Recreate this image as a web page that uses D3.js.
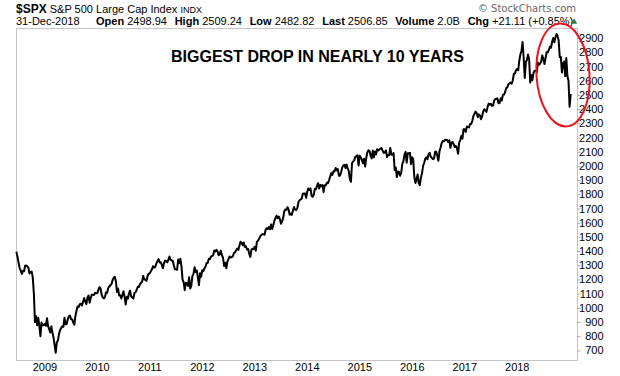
<!DOCTYPE html>
<html>
<head>
<meta charset="utf-8">
<script src="https://cdn.jsdelivr.net/npm/d3@7"></script>
<style>
  body { margin: 0; background: #fff; }
  text { font-family: Arial, "Liberation Sans", sans-serif; }
</style>
</head>
<body>
<div id="chart"></div>
<script>
const width = 620;
const height = 376;

// weekly-ish closes, 4 per month
const spx2008 = [1395, 1360, 1318, 1278, 1262, 1239, 1261, 1257, 1296, 1298, 1292, 1283,
  1242, 1252, 1255, 1213, 1100, 899, 941, 877, 930, 873, 800, 896, 876, 879, 887, 873];
const spx2009 = [927, 870, 850, 826, 869, 827, 789, 735, 683, 757, 769, 816,
  843, 857, 870, 866, 929, 883, 887, 919, 940, 946, 921, 918,
  897, 880, 941, 979, 1010, 1005, 1026, 1029, 1016, 1042, 1068, 1044,
  1025, 1071, 1087, 1036, 1069, 1093, 1091, 1091, 1106, 1102, 1102, 1126];
const spx2010 = [1145, 1137, 1092, 1074, 1066, 1075, 1109, 1105, 1139, 1150, 1159, 1167,
  1194, 1212, 1218, 1187, 1111, 1136, 1087, 1089, 1065, 1092, 1117, 1076,
  1023, 1078, 1065, 1102, 1121, 1079, 1072, 1065, 1104, 1110, 1125, 1148,
  1146, 1165, 1176, 1183, 1225, 1199, 1199, 1190, 1224, 1240, 1243, 1257];
const spx2011 = [1271, 1293, 1283, 1286, 1311, 1329, 1343, 1320, 1321, 1304, 1279, 1313,
  1332, 1328, 1320, 1337, 1361, 1340, 1333, 1331, 1300, 1271, 1271, 1268,
  1340, 1316, 1345, 1292, 1199, 1179, 1124, 1177, 1174, 1154, 1216, 1136,
  1155, 1224, 1239, 1285, 1253, 1263, 1216, 1159, 1244, 1219, 1265, 1258];
const spx2012 = [1278, 1289, 1315, 1316, 1345, 1343, 1361, 1366, 1370, 1404, 1397, 1408,
  1398, 1370, 1379, 1403, 1369, 1353, 1295, 1318, 1278, 1325, 1343, 1362,
  1354, 1357, 1363, 1386, 1391, 1406, 1418, 1407, 1438, 1466, 1460, 1441,
  1460, 1429, 1433, 1411, 1414, 1380, 1359, 1409, 1416, 1413, 1430, 1402];
const spx2013 = [1466, 1472, 1486, 1503, 1513, 1518, 1519, 1515, 1551, 1561, 1556, 1569,
  1553, 1588, 1555, 1582, 1614, 1633, 1650, 1631, 1643, 1626, 1593, 1606,
  1632, 1680, 1692, 1691, 1709, 1691, 1656, 1664, 1655, 1688, 1710, 1691,
  1690, 1703, 1744, 1759, 1762, 1770, 1804, 1806, 1805, 1775, 1818, 1841];
const spx2014 = [1831, 1842, 1790, 1782, 1797, 1838, 1836, 1859, 1878, 1841, 1866, 1857,
  1865, 1815, 1864, 1863, 1881, 1878, 1900, 1924, 1949, 1936, 1963, 1961,
  1985, 1968, 1978, 1931, 1931, 1955, 1988, 2003, 2008, 1985, 2010, 1982,
  1967, 1906, 1887, 2018, 2032, 2039, 2064, 2068, 2075, 2002, 2071, 2059];
const spx2015 = [2044, 2019, 2051, 1995, 2055, 2096, 2110, 2105, 2071, 2053, 2108, 2061,
  2102, 2081, 2117, 2108, 2116, 2122, 2126, 2107, 2092, 2094, 2110, 2063,
  2077, 2076, 2127, 2079, 2078, 2091, 1971, 1989, 1921, 1961, 1958, 1931,
  1951, 2014, 2033, 2079, 2099, 2023, 2089, 2090, 2092, 2012, 2061, 2044];
const spx2016 = [1922, 1880, 1906, 1940, 1880, 1865, 1918, 1948, 1999, 2022, 2050, 2060,
  2047, 2082, 2092, 2065, 2057, 2047, 2052, 2099, 2099, 2071, 2037, 2103,
  2130, 2162, 2175, 2173, 2183, 2184, 2183, 2169, 2180, 2128, 2164, 2168,
  2153, 2133, 2141, 2126, 2085, 2164, 2182, 2213, 2192, 2259, 2258, 2239];
const spx2017 = [2277, 2275, 2271, 2295, 2297, 2316, 2351, 2367, 2383, 2373, 2344, 2363,
  2355, 2329, 2349, 2384, 2399, 2391, 2381, 2416, 2439, 2432, 2438, 2423,
  2425, 2459, 2472, 2472, 2476, 2441, 2443, 2477, 2461, 2500, 2502, 2519,
  2549, 2553, 2575, 2581, 2587, 2579, 2602, 2648, 2652, 2675, 2683, 2674];
const spx2018 = [2743, 2786, 2810, 2873, 2762, 2620, 2732, 2747, 2786, 2752, 2588, 2640,
  2604, 2656, 2670, 2669, 2663, 2728, 2713, 2721, 2734, 2779, 2754, 2718,
  2759, 2801, 2801, 2818, 2840, 2833, 2874, 2902, 2872, 2905, 2930, 2914,
  2886, 2767, 2768, 2658, 2723, 2736, 2633, 2760, 2633, 2600, 2417, 2507];

const yearSeries = [
  { year: 2008, startMonth: 5, values: spx2008 },
  { year: 2009, startMonth: 0, values: spx2009 },
  { year: 2010, startMonth: 0, values: spx2010 },
  { year: 2011, startMonth: 0, values: spx2011 },
  { year: 2012, startMonth: 0, values: spx2012 },
  { year: 2013, startMonth: 0, values: spx2013 },
  { year: 2014, startMonth: 0, values: spx2014 },
  { year: 2015, startMonth: 0, values: spx2015 },
  { year: 2016, startMonth: 0, values: spx2016 },
  { year: 2017, startMonth: 0, values: spx2017 },
  { year: 2018, startMonth: 0, values: spx2018 }
];

const yearTicks = [2009, 2010, 2011, 2012, 2013, 2014, 2015, 2016, 2017, 2018];
const priceTicks = d3.range(700, 3000, 100);

// flatten to (fractional year, close)
const points = [];
yearSeries.forEach(s => {
  s.values.forEach((v, i) => {
    const m = s.startMonth + Math.floor(i / 4);
    const w = i % 4;
    points.push({ t: s.year + (m + (w + 0.5) / 4) / 12, close: v });
  });
});

const plotLeft = 16, plotRight = 577, plotTop = 28, plotBottom = 360;

const x = d3.scaleLinear().domain([2008.42, 2019.11]).range([plotLeft, plotRight]);
const y = d3.scaleLinear().domain([632, 2972]).range([plotBottom, plotTop]);

const svg = d3.select("#chart")
  .append("svg")
  .attr("width", width)
  .attr("height", height);

// frame
svg.append("rect")
  .attr("x", plotLeft + 0.5)
  .attr("y", plotTop + 0.5)
  .attr("width", plotRight - plotLeft)
  .attr("height", plotBottom - plotTop)
  .attr("fill", "none")
  .attr("stroke", "#c4c4c4");

// right price axis
const yAxis = svg.append("g")
  .attr("transform", `translate(${plotRight + 0.5},0)`)
  .call(d3.axisRight(y).tickValues(priceTicks).tickSize(3).tickPadding(0).tickFormat(d3.format("d")));
yAxis.select(".domain").remove();
yAxis.selectAll(".tick line").attr("stroke", "#aaa");
yAxis.selectAll(".tick text")
  .attr("x", 26)
  .attr("text-anchor", "end")
  .attr("fill", "#000")
  .style("font-family", "Arial, 'Liberation Sans', sans-serif")
  .style("font-size", "11px");

// bottom year axis
const xAxis = svg.append("g")
  .attr("transform", `translate(0,${plotBottom})`)
  .call(d3.axisBottom(x).tickValues(yearTicks).tickSize(0).tickPadding(3).tickFormat(d3.format("d")));
xAxis.select(".domain").remove();
xAxis.selectAll(".tick text")
  .attr("dx", -2)
  .attr("fill", "#000")
  .style("font-family", "Arial, 'Liberation Sans', sans-serif")
  .style("font-size", "11px");

// price line
const line = d3.line()
  .x(d => x(d.t))
  .y(d => y(d.close));

svg.append("path")
  .datum(points)
  .attr("d", line)
  .attr("fill", "none")
  .attr("stroke", "#000")
  .attr("stroke-width", 2)
  .attr("stroke-linejoin", "round");

// header
const h1 = svg.append("text").attr("x", 16).attr("y", 13);
h1.append("tspan").attr("font-weight", "bold").attr("font-size", 12).text("$SPX");
h1.append("tspan").attr("font-size", 11).text(" S&P 500 Large Cap Index ");
h1.append("tspan").attr("font-size", 9).text("INDX");

svg.append("text")
  .attr("x", 16).attr("y", 25)
  .attr("font-size", 11)
  .text("31-Dec-2018");

const stats = [
  ["Open", "2498.94"], ["High", "2509.24"], ["Low", "2482.82"],
  ["Last", "2506.85"], ["Volume", "2.0B"], ["Chg", "+21.11 (+0.85%)"]
];
const h2 = svg.append("text").attr("x", 96).attr("y", 25).attr("font-size", 11).style("white-space", "pre");
stats.forEach((s, i) => {
  h2.append("tspan").attr("font-weight", "bold").attr("dx", i ? 1.6 : 0).text((i ? "  " : "") + s[0]);
  h2.append("tspan").text(" " + s[1]);
});

svg.append("path")
  .attr("d", d3.symbol(d3.symbolTriangle, 18)())
  .attr("transform", "translate(574,22)")
  .attr("fill", "#2e7d32");

svg.append("text")
  .attr("x", 576).attr("y", 12)
  .attr("text-anchor", "end")
  .attr("fill", "#666")
  .style("font-family", "'DejaVu Sans', sans-serif")
  .attr("font-size", 10)
  .text("\u00A9 StockCharts.com");

// annotation
svg.append("text")
  .attr("x", 171).attr("y", 61.5)
  .attr("font-size", 16)
  .attr("font-weight", "bold")
  .text("BIGGEST DROP IN NEARLY 10 YEARS");

svg.append("ellipse")
  .attr("cx", 0).attr("cy", 0)
  .attr("rx", 26.5).attr("ry", 51.5)
  .attr("transform", "translate(563,75) rotate(-4)")
  .attr("fill", "none")
  .attr("stroke", "#e8141a")
  .attr("stroke-width", 2);
</script>
</body>
</html>
